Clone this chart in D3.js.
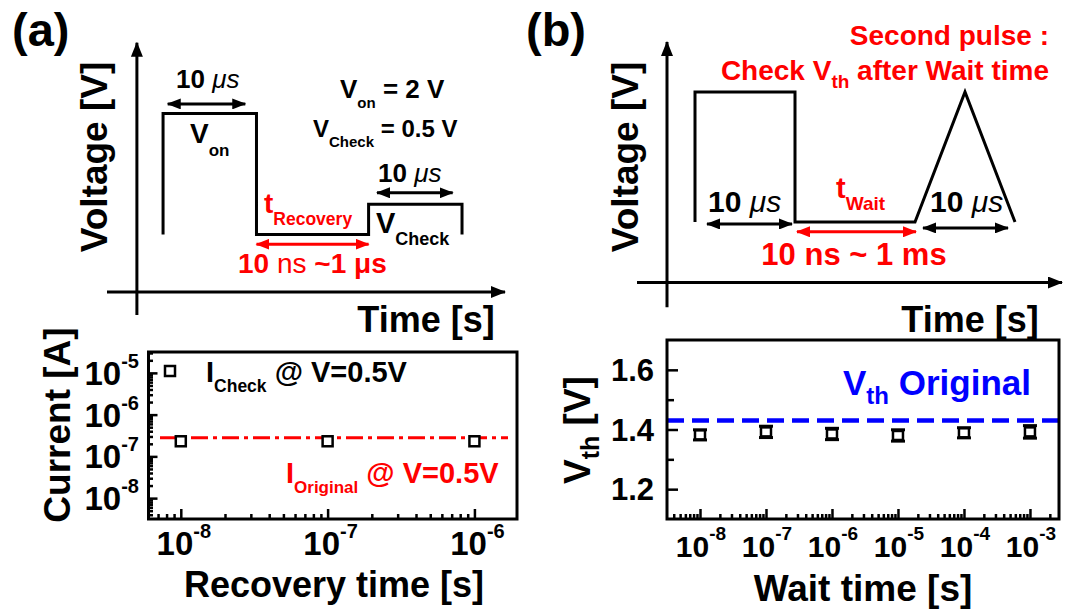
<!DOCTYPE html>
<html lang="en">
<head>
<meta charset="UTF-8">
<title>Recovery and wait time</title>
<script src="https://cdn.jsdelivr.net/npm/d3@7"></script>
<style>
    body { margin: 0; background: #fff; }
    text { font-family: "Liberation Sans", Arial, sans-serif; font-weight: bold; }
</style>
</head>
<body>
<svg id="fig" width="1075" height="610"></svg>
<script>
// ---- data ----
// schematic waveforms: time in arbitrary units (10 = one 10 us pulse), voltage in V
const waveATime = [0, 0, 10, 10, 22, 22, 32, 32];
const waveAVolt = [0, 2, 2, 0, 0, 0.5, 0.5, 0];
const waveBTime = [0, 0, 10, 10, 22, 27, 32];
const waveBVolt = [0, 2, 2, 0, 0, 2, 0];

// (a) current vs recovery time
const recoveryTime = [1e-8, 1e-7, 1e-6];
const checkCurrent = [2.3e-7, 2.3e-7, 2.3e-7];
const originalCurrent = 2.8e-7;
const currentTicks = [1e-8, 1e-7, 1e-6, 1e-5];
const recoveryTicks = [1e-8, 1e-7, 1e-6];

// (b) Vth vs wait time
const waitTime = [1e-8, 1e-7, 1e-6, 1e-5, 1e-4, 1e-3];
const vth = [1.382, 1.392, 1.385, 1.380, 1.389, 1.392];
const vthErr = [0.017, 0.019, 0.019, 0.019, 0.017, 0.021];
const vthOriginal = 1.43;
const vthTicks = [1.2, 1.4, 1.6];
const vthMinor = [1.3, 1.5];

const svg = d3.select("#fig");
const defs = svg.append("defs");

function addMarker(id, color, len, half) {
    defs.append("marker")
        .attr("id", id)
        .attr("viewBox", `0 ${-half} ${len} ${2 * half}`)
        .attr("refX", len - 1).attr("refY", 0)
        .attr("markerWidth", len).attr("markerHeight", 2 * half)
        .attr("markerUnits", "userSpaceOnUse")
        .attr("orient", "auto-start-reverse")
        .append("path")
        .attr("d", `M0,${-half}L${len},0L0,${half}Z`)
        .attr("fill", color);
}
addMarker("axisHead", "#000", 15, 6);
addMarker("blackHead", "#000", 14, 5.5);
addMarker("redHead", "#f00", 14, 5.5);

// text with sub/superscript parts
function rich(g, x, y, parts, size, color, anchor) {
    const t = g.append("text")
        .attr("x", x).attr("y", y)
        .attr("font-size", size)
        .attr("fill", color || "#000")
        .attr("text-anchor", anchor || "start");
    let shift = 0;
    parts.forEach(p => {
        const s = t.append("tspan").text(p.t);
        const target = p.dy || 0;
        if (target - shift !== 0) s.attr("dy", target - shift);
        shift = target;
        if (p.size) s.attr("font-size", p.size);
        if (p.italic) s.attr("font-style", "italic");
        if (p.normal) s.attr("font-weight", "normal");
    });
    return t;
}

function rotTitle(x, y, parts, size) {
    const g = svg.append("g").attr("transform", `translate(${x},${y}) rotate(-90)`);
    rich(g, 0, 0, parts, size, "#000", "middle");
}

const line = (xs, ys) => d3.line().x((d, i) => xs(d[0])).y(d => ys(d[1]));

// ---- (a) schematic ----
const xTA = d3.scaleLinear().domain([-6, 36.6]).range([107, 505]);
const yTA = d3.scaleLinear().domain([-0.95, 3.15]).range([292, 44]);

const gA = svg.append("g");
gA.append("line").attr("x1", xTA(-2.8)).attr("x2", xTA(-2.8))
    .attr("y1", yTA(-1.33)).attr("y2", yTA(3.17))
    .attr("stroke", "#000").attr("stroke-width", 3).attr("marker-end", "url(#axisHead)");
gA.append("line").attr("x1", xTA(-6)).attr("x2", xTA(36.6))
    .attr("y1", yTA(-0.95)).attr("y2", yTA(-0.95))
    .attr("stroke", "#000").attr("stroke-width", 3).attr("marker-end", "url(#axisHead)");

gA.append("path")
    .attr("d", line(xTA, yTA)(waveATime.map((t, i) => [t, waveAVolt[i]])))
    .attr("fill", "none").attr("stroke", "#000").attr("stroke-width", 3);

function arrow(g, x1, x2, y, head, color) {
    g.append("line").attr("x1", x1).attr("x2", x2).attr("y1", y).attr("y2", y)
        .attr("stroke", color).attr("stroke-width", 3)
        .attr("marker-start", `url(#${head})`).attr("marker-end", `url(#${head})`);
}
arrow(gA, xTA(0.5), xTA(8.8), yTA(2.16), "blackHead", "#000");
arrow(gA, xTA(22.9), xTA(31.0), yTA(0.69), "blackHead", "#000");
arrow(gA, xTA(10.0), xTA(22.0), yTA(-0.16), "redHead", "#f00");

rich(gA, 176, 88, [{ t: "10 " }, { t: "μs", italic: true, normal: true }], 26);
rich(gA, 190, 143, [{ t: "V" }, { t: "on", size: 17, dy: 13 }], 28);
rich(gA, 340, 98, [{ t: "V" }, { t: "on", size: 15, dy: 10 }, { t: " = 2 V", dy: 0 }], 26);
rich(gA, 313, 137, [{ t: "V" }, { t: "Check", size: 15, dy: 10 }, { t: " = 0.5 V", dy: 0 }], 24);
rich(gA, 378, 182, [{ t: "10 " }, { t: "μs", italic: true, normal: true }], 26);
rich(gA, 376, 233, [{ t: "V" }, { t: "Check", size: 18, dy: 12 }], 29);
rich(gA, 264, 213, [{ t: "t" }, { t: "Recovery", size: 17.5, dy: 12 }], 28, "#f00");
rich(gA, 238, 273, [{ t: "10 " }, { t: "ns", normal: true }, { t: " ~1 μs" }], 28, "#f00");

rotTitle(107, 157, [{ t: "Voltage [V]" }], 37);
gA.append("text").attr("x", 426).attr("y", 332).attr("text-anchor", "middle")
    .attr("font-size", 36).text("Time [s]");
gA.append("text").attr("x", 12).attr("y", 46).attr("font-size", 47).text("(a)");

// ---- (b) schematic ----
const xTB = d3.scaleLinear().domain([-5.8, 36.7]).range([637, 1062]);
const yTB = d3.scaleLinear().domain([-0.93, 2.754]).range([282.5, 43]);

const gB = svg.append("g");
gB.append("line").attr("x1", xTB(-2.8)).attr("x2", xTB(-2.8))
    .attr("y1", yTB(-1.31)).attr("y2", yTB(2.77))
    .attr("stroke", "#000").attr("stroke-width", 3).attr("marker-end", "url(#axisHead)");
gB.append("line").attr("x1", xTB(-5.8)).attr("x2", xTB(36.7))
    .attr("y1", yTB(-0.93)).attr("y2", yTB(-0.93))
    .attr("stroke", "#000").attr("stroke-width", 3).attr("marker-end", "url(#axisHead)");

gB.append("path")
    .attr("d", line(xTB, yTB)(waveBTime.map((t, i) => [t, waveBVolt[i]])))
    .attr("fill", "none").attr("stroke", "#000").attr("stroke-width", 3);

arrow(gB, xTB(1.2), xTB(9.7), yTB(-0.03), "blackHead", "#000");
arrow(gB, xTB(10.2), xTB(22.1), yTB(-0.15), "redHead", "#f00");
arrow(gB, xTB(22.8), xTB(31.3), yTB(-0.09), "blackHead", "#000");

rich(gB, 708, 212, [{ t: "10 " }, { t: "μs", italic: true, normal: true }], 30);
rich(gB, 930, 212, [{ t: "10 " }, { t: "μs", italic: true, normal: true }], 30);
rich(gB, 836, 198, [{ t: "t" }, { t: "Wait", size: 19, dy: 12 }], 29, "#f00");
rich(gB, 854, 265, [{ t: "10 ns ~ 1 ms" }], 31, "#f00", "middle");
rich(gB, 1049, 45, [{ t: "Second pulse :" }], 28, "#f00", "end");
rich(gB, 1049, 80, [{ t: "Check V" }, { t: "th", size: 19, dy: 8 }, { t: " after Wait time", dy: 0 }], 28, "#f00", "end");

rotTitle(638, 157, [{ t: "Voltage [V]" }], 37);
gB.append("text").attr("x", 970).attr("y", 332).attr("text-anchor", "middle")
    .attr("font-size", 36).text("Time [s]");
gB.append("text").attr("x", 526).attr("y", 46).attr("font-size", 47).text("(b)");

// ---- log tick helpers ----
function isDecade(v) { return Math.abs(Math.log10(v) - Math.round(Math.log10(v))) < 1e-6; }

function supLabel(g, x, y, v, size, supSize, supDy, anchor) {
    rich(g, x, y, [{ t: "10" }, { t: String(Math.round(Math.log10(v))), size: supSize, dy: supDy }], size, "#000", anchor);
}

// ---- (a) current vs recovery time ----
const xA = d3.scaleLog().domain([Math.pow(10, -8.22), Math.pow(10, -5.71)]).range([148.5, 517]);
const yA = d3.scaleLog().domain([Math.pow(10, -8.5), Math.pow(10, -4.5)]).range([519, 352]);
const pA = svg.append("g");

pA.append("g").attr("transform", `translate(0,${yA.range()[0]})`)
    .call(d3.axisBottom(xA).tickValues(xA.ticks()).tickSizeInner(0).tickSizeOuter(0).tickFormat(""))
    .call(g => g.select(".domain").remove())
    .call(g => g.selectAll(".tick line")
        .attr("y2", d => isDecade(d) ? -10 : -5).attr("stroke-width", 2.5));
pA.append("g").attr("transform", `translate(${xA.range()[0]},0)`)
    .call(d3.axisLeft(yA).tickValues(yA.ticks()).tickSizeInner(0).tickSizeOuter(0).tickFormat(""))
    .call(g => g.select(".domain").remove())
    .call(g => g.selectAll(".tick line")
        .attr("x2", d => isDecade(d) ? 9 : 4.5).attr("stroke-width", 2.5));

recoveryTicks.forEach(v => supLabel(pA, xA(v) + 3, 555, v, 33, 20, -17, "middle"));
currentTicks.forEach(v => supLabel(pA, 139, yA(v) + 12, v, 33, 20, -17, "end"));

pA.append("line")
    .attr("x1", 160).attr("x2", 508)
    .attr("y1", yA(originalCurrent)).attr("y2", yA(originalCurrent))
    .attr("stroke", "#f00").attr("stroke-width", 3)
    .attr("stroke-dasharray", "17,5,4,5");

pA.selectAll("rect.pt")
    .data(recoveryTime)
    .join("rect").attr("class", "pt")
    .attr("x", (d) => xA(d) - 5).attr("y", (d, i) => yA(checkCurrent[i]) - 5)
    .attr("width", 10).attr("height", 10)
    .attr("fill", "#fff").attr("stroke", "#000").attr("stroke-width", 2.5);

// legend
pA.append("rect").attr("x", 165).attr("y", 366).attr("width", 10).attr("height", 10)
    .attr("fill", "#fff").attr("stroke", "#000").attr("stroke-width", 2.5);
rich(pA, 206, 382, [{ t: "I" }, { t: "Check", size: 17.5, dy: 10 }, { t: " @ V=0.5V", dy: 0 }], 29);
rich(pA, 286, 483, [{ t: "I" }, { t: "Original", size: 17, dy: 10 }, { t: " @ V=0.5V", dy: 0 }], 29, "#f00");

pA.append("rect")
    .attr("x", xA.range()[0]).attr("y", yA.range()[1])
    .attr("width", xA.range()[1] - xA.range()[0]).attr("height", yA.range()[0] - yA.range()[1])
    .attr("fill", "none").attr("stroke", "#000").attr("stroke-width", 3);

rotTitle(70, 425, [{ t: "Current [A]" }], 37);
pA.append("text").attr("x", 334).attr("y", 597).attr("text-anchor", "middle")
    .attr("font-size", 36).text("Recovery time [s]");

// ---- (b) Vth vs wait time ----
const xB = d3.scaleLog().domain([Math.pow(10, -8.5), Math.pow(10, -2.56)]).range([667, 1059]);
const yB = d3.scaleLinear().domain([1.1, 1.7]).range([519, 340]);
const pB = svg.append("g");

pB.append("g").attr("transform", `translate(0,${yB.range()[0]})`)
    .call(d3.axisBottom(xB).tickValues(xB.ticks()).tickSizeInner(0).tickSizeOuter(0).tickFormat(""))
    .call(g => g.select(".domain").remove())
    .call(g => g.selectAll(".tick line")
        .attr("y2", d => isDecade(d) ? -10 : -5).attr("stroke-width", 2.5));
pB.append("g").attr("transform", `translate(${xB.range()[0]},0)`)
    .call(d3.axisLeft(yB).tickValues(vthTicks.concat(vthMinor)).tickSizeInner(0).tickSizeOuter(0).tickFormat(""))
    .call(g => g.select(".domain").remove())
    .call(g => g.selectAll(".tick line")
        .attr("x2", d => vthTicks.includes(d) ? 11 : 7).attr("stroke-width", 2.5));

waitTime.forEach(v => supLabel(pB, xB(v) + 1, 557, v, 30, 19, -17, "middle"));
vthTicks.forEach(v => pB.append("text").attr("x", 654).attr("y", yB(v) + 11)
    .attr("text-anchor", "end").attr("font-size", 31).text(d3.format(".1f")(v)));

pB.append("line")
    .attr("x1", xB.range()[0]).attr("x2", xB.range()[1])
    .attr("y1", yB(vthOriginal)).attr("y2", yB(vthOriginal))
    .attr("stroke", "#0000ff").attr("stroke-width", 4.5)
    .attr("stroke-dasharray", "17,8");

const pts = pB.selectAll("g.pt").data(waitTime).join("g").attr("class", "pt");
pts.append("line")
    .attr("x1", d => xB(d)).attr("x2", d => xB(d))
    .attr("y1", (d, i) => yB(vth[i] - vthErr[i])).attr("y2", (d, i) => yB(vth[i] + vthErr[i]))
    .attr("stroke", "#000").attr("stroke-width", 2.5);
[-1, 1].forEach(s => pts.append("line")
    .attr("x1", d => xB(d) - 7).attr("x2", d => xB(d) + 7)
    .attr("y1", (d, i) => yB(vth[i] + s * vthErr[i])).attr("y2", (d, i) => yB(vth[i] + s * vthErr[i]))
    .attr("stroke", "#000").attr("stroke-width", 3));
pts.append("rect")
    .attr("x", d => xB(d) - 5).attr("y", (d, i) => yB(vth[i]) - 4.5)
    .attr("width", 10).attr("height", 9)
    .attr("fill", "#fff").attr("stroke", "#000").attr("stroke-width", 2.5);

rich(pB, 843, 395, [{ t: "V" }, { t: "th", size: 24, dy: 9 }, { t: " Original", dy: 0 }], 35, "#0000ff");

pB.append("rect")
    .attr("x", xB.range()[0]).attr("y", yB.range()[1])
    .attr("width", xB.range()[1] - xB.range()[0]).attr("height", yB.range()[0] - yB.range()[1])
    .attr("fill", "none").attr("stroke", "#000").attr("stroke-width", 3);

rotTitle(590, 430, [{ t: "V" }, { t: "th", size: 25, dy: 9 }, { t: " [V]", dy: 0 }], 37);
pB.append("text").attr("x", 863).attr("y", 601).attr("text-anchor", "middle")
    .attr("font-size", 37).text("Wait time [s]");
</script>
</body>
</html>
